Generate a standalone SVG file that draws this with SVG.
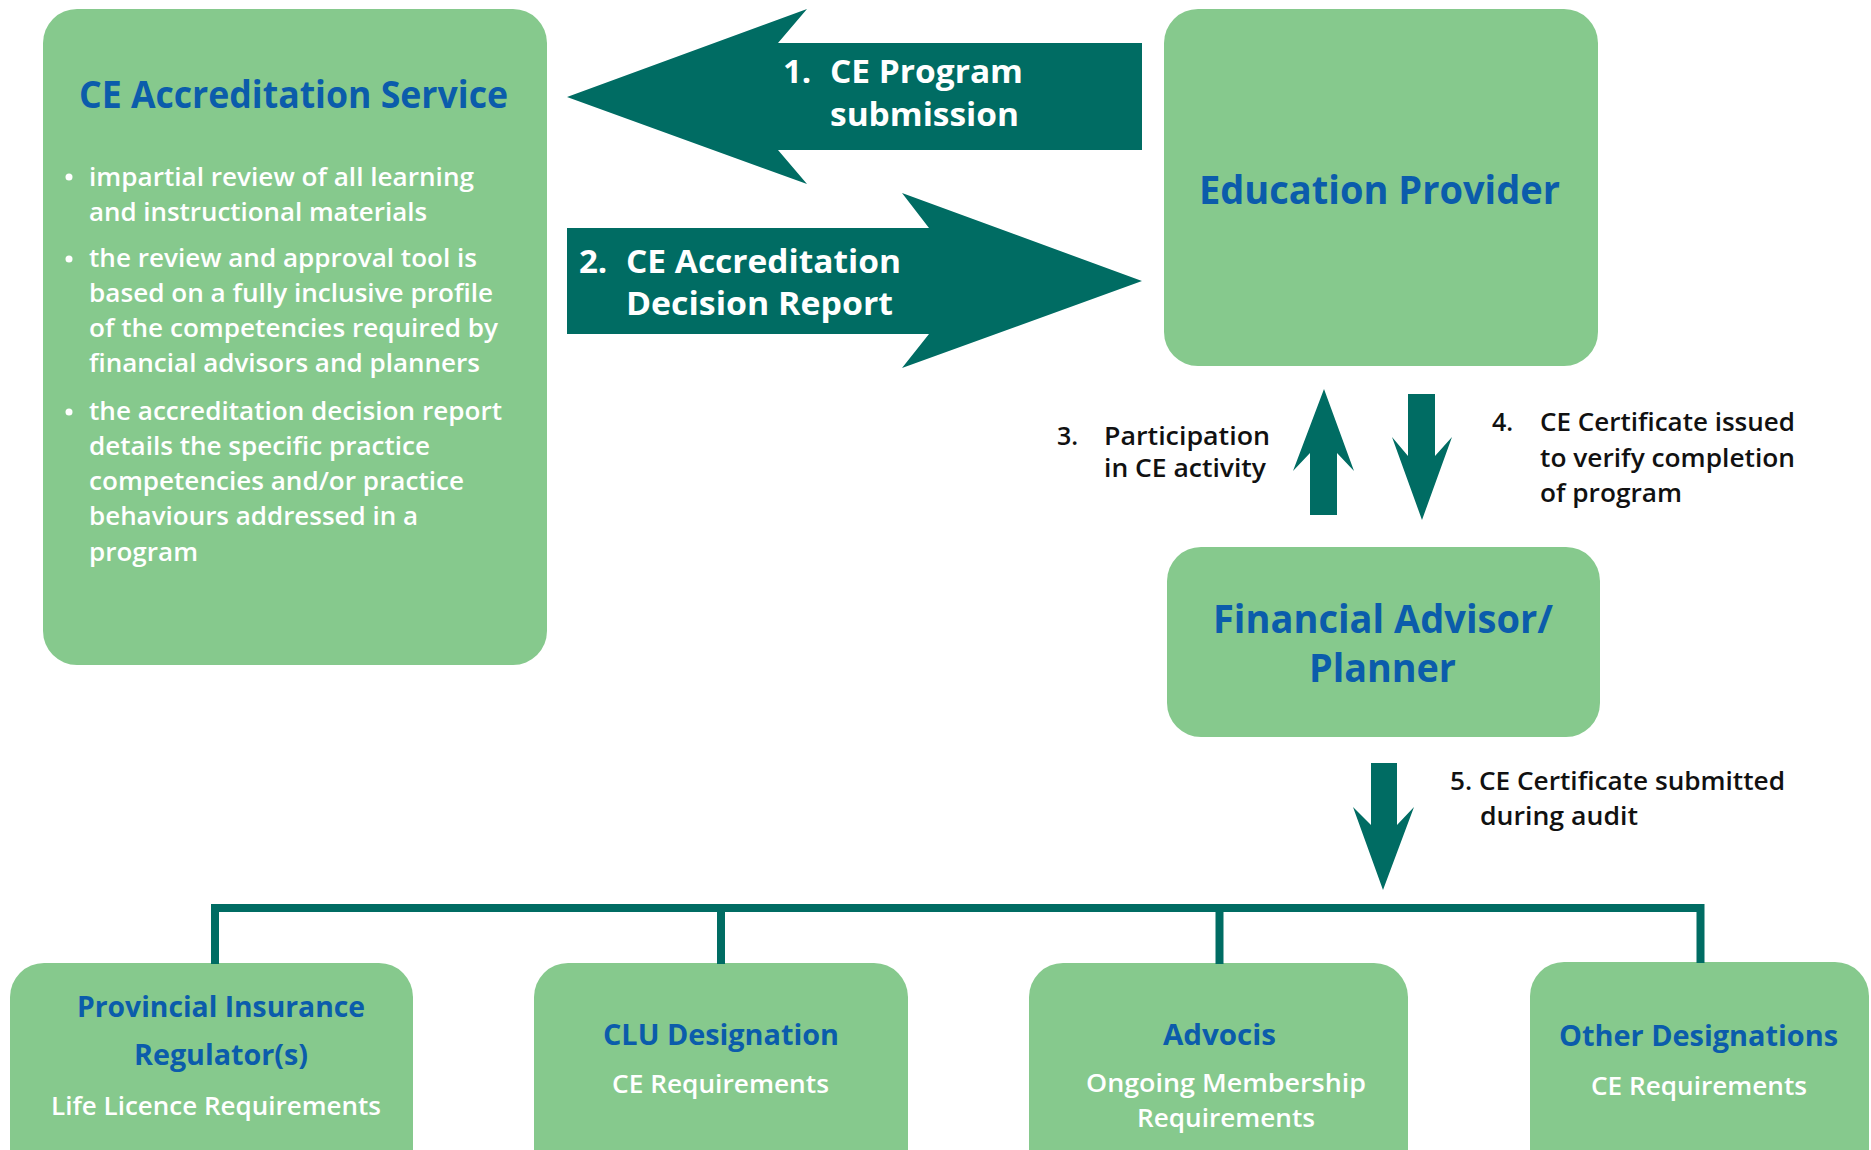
<svg xmlns="http://www.w3.org/2000/svg" width="1871" height="1150" viewBox="0 0 1871 1150">
<style>
text{font-family:"Open Sans","Noto Sans","Liberation Sans",sans-serif}
.box{fill:#86C98D}
.title{font-weight:700;fill:#0B5CAB}
.body{font-weight:600;fill:#FFFFFF;font-size:25px}
.alab{font-weight:700;fill:#FFFFFF;font-size:33px}
.note{font-weight:600;fill:#111111;font-size:25px}
.arrow{fill:#006C63}
.line{stroke:#006C63;stroke-width:8;fill:none}
.sub{font-weight:600;fill:#FFFFFF;font-size:25px}
</style>
<rect width="1871" height="1150" fill="#FFFFFF"/>

<g id="node-ceas">
<rect class="box" x="43" y="9" width="504" height="656" rx="34"/>
<text class="title" x="79" y="108" font-size="37" textLength="429" lengthAdjust="spacingAndGlyphs">CE Accreditation Service</text>
<circle cx="69" cy="177" r="3.5" fill="#FFFFFF"/>
<circle cx="69" cy="259" r="3.5" fill="#FFFFFF"/>
<circle cx="69" cy="412" r="3.5" fill="#FFFFFF"/>
<text class="body" x="89" y="185.5" textLength="385" lengthAdjust="spacingAndGlyphs">impartial review of all learning</text>
<text class="body" x="89" y="220.7" textLength="338" lengthAdjust="spacingAndGlyphs">and instructional materials</text>
<text class="body" x="89" y="266.7" textLength="388" lengthAdjust="spacingAndGlyphs">the review and approval tool is</text>
<text class="body" x="89" y="301.9" textLength="404" lengthAdjust="spacingAndGlyphs">based on a fully inclusive profile</text>
<text class="body" x="89" y="337.1" textLength="409" lengthAdjust="spacingAndGlyphs">of the competencies required by</text>
<text class="body" x="89" y="372.3" textLength="391" lengthAdjust="spacingAndGlyphs">financial advisors and planners</text>
<text class="body" x="89" y="419.8" textLength="413" lengthAdjust="spacingAndGlyphs">the accreditation decision report</text>
<text class="body" x="89" y="455" textLength="341" lengthAdjust="spacingAndGlyphs">details the specific practice</text>
<text class="body" x="89" y="490.2" textLength="375" lengthAdjust="spacingAndGlyphs">competencies and/or practice</text>
<text class="body" x="89" y="525.4" textLength="329" lengthAdjust="spacingAndGlyphs">behaviours addressed in a</text>
<text class="body" x="89" y="560.6" textLength="109" lengthAdjust="spacingAndGlyphs">program</text>
</g>

<g id="node-education-provider">
<rect class="box" x="1164" y="9" width="434" height="357" rx="34"/>
<text class="title" x="1199" y="203.6" font-size="40" textLength="361" lengthAdjust="spacingAndGlyphs">Education Provider</text>
</g>

<g id="node-financial-advisor">
<rect class="box" x="1167" y="547" width="433" height="190" rx="34"/>
<text class="title" x="1213" y="633.3" font-size="39" textLength="340" lengthAdjust="spacingAndGlyphs">Financial Advisor/</text>
<text class="title" x="1309" y="681.7" font-size="39" textLength="147" lengthAdjust="spacingAndGlyphs">Planner</text>
</g>

<g id="node-provincial">
<rect class="box" x="10" y="963" width="403" height="230" rx="34"/>
<text class="title" x="77" y="1016.7" font-size="28" textLength="288" lengthAdjust="spacingAndGlyphs">Provincial Insurance</text>
<text class="title" x="134" y="1065" font-size="28" textLength="174" lengthAdjust="spacingAndGlyphs">Regulator(s)</text>
<text class="sub" x="51" y="1115" textLength="330" lengthAdjust="spacingAndGlyphs">Life Licence Requirements</text>
</g>

<g id="node-clu">
<rect class="box" x="534" y="963" width="374" height="230" rx="34"/>
<text class="title" x="603" y="1045" font-size="28" textLength="236" lengthAdjust="spacingAndGlyphs">CLU Designation</text>
<text class="sub" x="612" y="1092.7" textLength="217" lengthAdjust="spacingAndGlyphs">CE Requirements</text>
</g>

<g id="node-advocis">
<rect class="box" x="1029" y="963" width="379" height="230" rx="34"/>
<text class="title" x="1163" y="1045" font-size="28" textLength="113" lengthAdjust="spacingAndGlyphs">Advocis</text>
<text class="sub" x="1086" y="1091.7" textLength="280" lengthAdjust="spacingAndGlyphs">Ongoing Membership</text>
<text class="sub" x="1137" y="1126.7" textLength="178" lengthAdjust="spacingAndGlyphs">Requirements</text>
</g>

<g id="node-other">
<rect class="box" x="1530" y="962" width="339" height="230" rx="34"/>
<text class="title" x="1559" y="1045.7" font-size="28" textLength="279" lengthAdjust="spacingAndGlyphs">Other Designations</text>
<text class="sub" x="1591" y="1095" textLength="216" lengthAdjust="spacingAndGlyphs">CE Requirements</text>
</g>

<g id="connectors">
<g id="arrow-1">
<polygon class="arrow" points="567,97 807,9 778,43 1142,43 1142,150 778,150 807,184"/>
<text class="alab" x="783" y="83.3">1.</text>
<text class="alab" x="830" y="83.3" textLength="193" lengthAdjust="spacingAndGlyphs">CE Program</text>
<text class="alab" x="830" y="125.5" textLength="189" lengthAdjust="spacingAndGlyphs">submission</text>
</g>
<g id="arrow-2">
<polygon class="arrow" points="567,228 929,228 902,193 1142,281 902,368 929,334 567,334"/>
<text class="alab" x="579" y="273.3">2.</text>
<text class="alab" x="626" y="273.3" textLength="275" lengthAdjust="spacingAndGlyphs">CE Accreditation</text>
<text class="alab" x="626" y="315" textLength="267" lengthAdjust="spacingAndGlyphs">Decision Report</text>
</g>
<g id="arrow-3">
<polygon class="arrow" points="1324,389 1354,471 1337,453 1337,515 1310,515 1310,453 1293,471"/>
<text class="note" x="1057" y="445">3.</text>
<text class="note" x="1104" y="445" textLength="166" lengthAdjust="spacingAndGlyphs">Participation</text>
<text class="note" x="1104" y="477" textLength="162" lengthAdjust="spacingAndGlyphs">in CE activity</text>
</g>
<g id="arrow-4">
<polygon class="arrow" points="1408,394 1435,394 1435,456 1452,437 1422,520 1392,437 1408,456"/>
<text class="note" x="1492" y="431.4">4.</text>
<text class="note" x="1540" y="431.4" textLength="255" lengthAdjust="spacingAndGlyphs">CE Certificate issued</text>
<text class="note" x="1540" y="467" textLength="255" lengthAdjust="spacingAndGlyphs">to verify completion</text>
<text class="note" x="1540" y="501.8" textLength="142" lengthAdjust="spacingAndGlyphs">of program</text>
</g>
<g id="arrow-5">
<polygon class="arrow" points="1371,763 1397,763 1397,825 1414,807 1383,890 1353,807 1371,825"/>
<text class="note" x="1450" y="790" textLength="335" lengthAdjust="spacingAndGlyphs">5. CE Certificate submitted</text>
<text class="note" x="1480" y="825" textLength="158" lengthAdjust="spacingAndGlyphs">during audit</text>
</g>
<g id="tree">
<polyline class="line" points="215,964 215,908 1700.5,908 1700.5,963"/>
<line class="line" x1="721" y1="908" x2="721" y2="964"/>
<line class="line" x1="1219.5" y1="908" x2="1219.5" y2="964"/>
</g>
</g>
</svg>
